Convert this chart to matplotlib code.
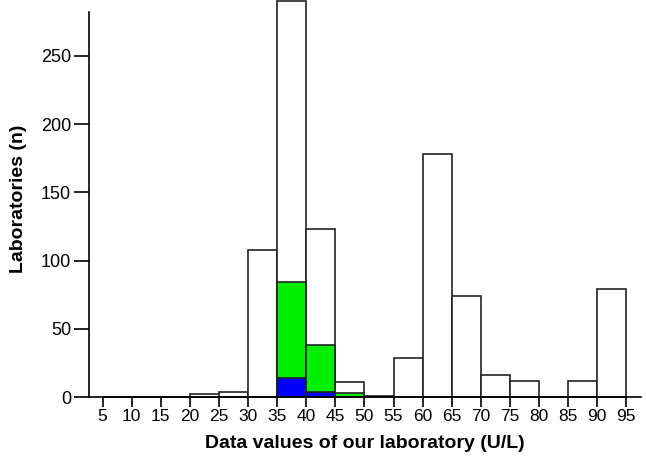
import matplotlib
matplotlib.use("Agg")
import matplotlib.pyplot as plt

plt.rcParams['font.family'] = ['Liberation Sans', 'DejaVu Sans']

# bin left edges (U/L), bin width 5
bin_left = [5, 10, 15, 20, 25, 30, 35, 40, 45, 50, 55, 60, 65, 70, 75, 80, 85, 90]
total = [0, 0, 0, 2, 4, 108, 290, 123, 11, 1, 29, 178, 74, 16, 12, 0, 12, 79]
green = [0, 0, 0, 0, 0, 0, 84, 38, 3, 0, 0, 0, 0, 0, 0, 0, 0, 0]
blue = [0, 0, 0, 0, 0, 0, 14, 4, 0, 0, 0, 0, 0, 0, 0, 0, 0, 0]
xticks = list(range(5, 100, 5))
yticks = [0, 50, 100, 150, 200, 250]

fig = plt.figure(figsize=(6.46, 4.65), dpi=100)
ax = fig.add_axes([0.138, 0.146, 0.854, 0.854])

lw = 1.2
ax.bar(bin_left, total, width=5, align='edge', color='white', edgecolor='#222222', linewidth=lw, clip_on=False)
ax.bar(bin_left, green, width=5, align='edge', color='#00ee00', edgecolor='#222222', linewidth=lw, clip_on=False)
ax.bar(bin_left, blue, width=5, align='edge', color='#0000ff', edgecolor='#222222', linewidth=lw, clip_on=False)

ax.set_xlim(2.7, 97.5)
ax.set_ylim(0, 291)
ax.set_xticks(xticks)
ax.set_yticks(yticks)
ax.tick_params(axis='x', direction='out', length=7, width=1.2, labelsize=12.5, pad=1.5)
ax.tick_params(axis='y', direction='out', length=11, width=1.2, labelsize=13, pad=2)

for s in ['top', 'right']:
    ax.spines[s].set_visible(False)
ax.spines['left'].set_bounds(0, 282)
ax.spines['left'].set_linewidth(1.2)
ax.spines['bottom'].set_linewidth(1.2)

ax.set_xlabel('Data values of our laboratory (U/L)', fontsize=14, fontweight='bold', labelpad=8)
ax.set_ylabel('Laboratories (n)', fontsize=14, fontweight='bold', labelpad=10)

fig.savefig('out.png', dpi=100)
